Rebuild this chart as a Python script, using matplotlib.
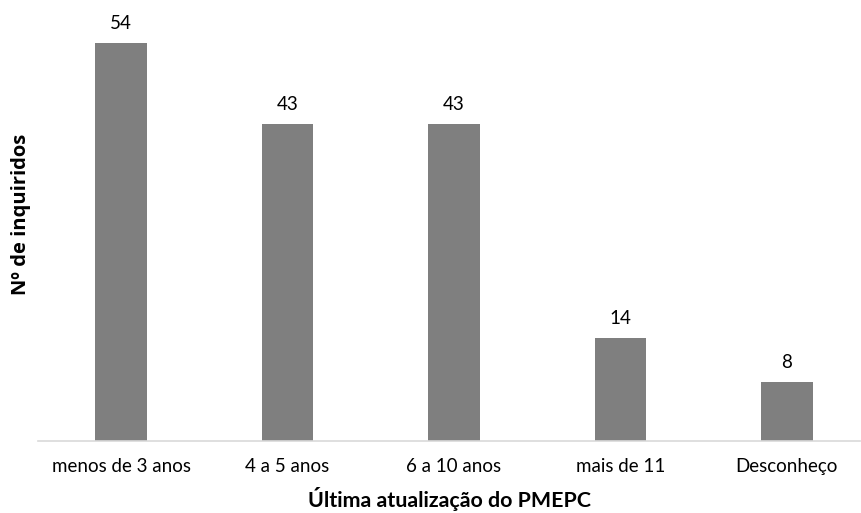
import matplotlib
matplotlib.use("Agg")
import matplotlib.pyplot as plt

# Survey answers: last update of the municipal emergency plan
categorias = ["menos de 3 anos", "4 a 5 anos", "6 a 10 anos", "mais de 11", "Desconheço"]
inquiridos = [54, 43, 43, 14, 8]

plt.rcParams["font.family"] = ["Lato", "DejaVu Sans"]

fig = plt.figure(figsize=(8.61, 5.13), dpi=100)
ax = fig.add_axes([38 / 861, 72 / 513, 822 / 861, 436 / 513])

x = range(len(categorias))
bars = ax.bar(x, inquiridos, width=0.31, color="#7f7f7f")

for rect, v in zip(bars, inquiridos):
    ax.annotate(str(v), (rect.get_x() + rect.get_width() / 2, v),
                xytext=(0, 8), textcoords="offset points",
                ha="center", va="bottom", fontsize=13.5, color="#000000")

ax.set_xlim(-0.5, 4.44)
ax.set_ylim(0, 59.2)
ax.set_xticks(list(x))
ax.set_xticklabels(categorias, fontsize=13.5)
ax.set_yticks([])
ax.tick_params(axis="x", length=0, pad=12)

for side in ["top", "right", "left"]:
    ax.spines[side].set_visible(False)
ax.spines["bottom"].set_color("#d9d9d9")
ax.spines["bottom"].set_linewidth(1.2)

ax.set_xlabel("Última atualização do PMEPC", fontsize=15.4, fontweight="bold", labelpad=9)
fig.text(21 / 861, 1 - 214 / 513, "Nº de inquiridos", rotation=90, fontsize=14.5,
         fontweight="bold", ha="center", va="center", family=["Open Sans", "DejaVu Sans"])

fig.savefig("out.png", dpi=100)
